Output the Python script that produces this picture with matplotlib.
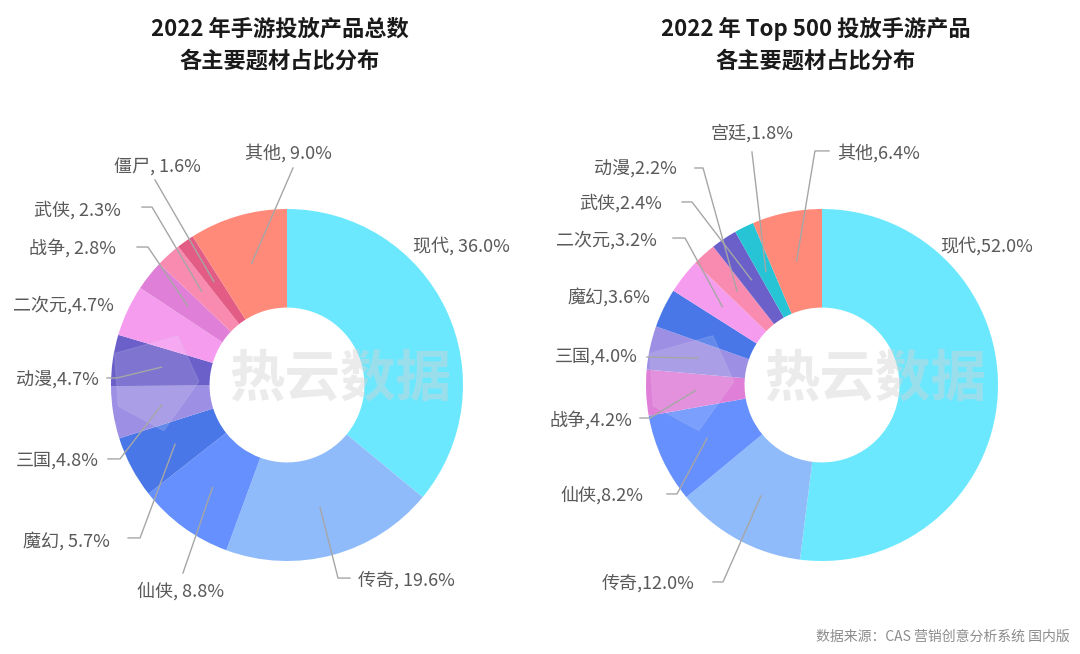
import numpy as np
import matplotlib.pyplot as plt
from matplotlib.patches import Polygon

plt.rcParams['font.family'] = ['Noto Sans CJK SC', 'DejaVu Sans']

# 左图：2022 年手游投放产品总数
left_names = ['现代', '传奇', '仙侠', '魔幻', '三国', '动漫', '二次元', '战争', '武侠', '僵尸', '其他']
left_values = [36.0, 19.6, 8.8, 5.7, 4.8, 4.7, 4.7, 2.8, 2.3, 1.6, 9.0]
left_labels = ['现代, 36.0%', '传奇, 19.6%', '仙侠, 8.8%', '魔幻, 5.7%', '三国,4.8%', '动漫,4.7%',
               '二次元,4.7%', '战争, 2.8%', '武侠, 2.3%', '僵尸, 1.6%', '其他, 9.0%']

# 右图：2022 年 Top 500 投放手游产品
right_names = ['现代', '传奇', '仙侠', '战争', '三国', '魔幻', '二次元', '动漫', '武侠', '宫廷', '其他']
right_values = [52.0, 12.0, 8.2, 4.2, 4.0, 3.6, 3.2, 2.2, 2.4, 1.8, 6.4]
right_labels = ['现代,52.0%', '传奇,12.0%', '仙侠,8.2%', '战争,4.2%', '三国,4.0%', '魔幻,3.6%',
                '二次元,3.2%', '动漫,2.2%', '武侠,2.4%', '宫廷,1.8%', '其他,6.4%']

palette = {
    '现代': '#6CE8FE', '传奇': '#8FBBFA', '仙侠': '#6690FD', '魔幻': '#4A77E8',
    '三国': '#9D8FE4', '动漫': '#6B5FC9', '二次元': '#F59CEF', '战争': '#E07FD8',
    '武侠': '#F98AB0', '僵尸': '#E35C85', '其他': '#FF8A7A', '宫廷': '#26C4D4',
}
right_palette = dict(palette, 动漫='#F98AB0', 武侠='#6B5FC9')

# 标签布局（以饼图半径为单位）：文字位置、对齐方式、引线折点
left_layout = [
    ((0.716, 0.790), 'left', []),
    ((0.403, -1.108), 'left', [(0.290, -1.097), (0.358, -1.097)]),
    ((-0.852, -1.170), 'left', [(-0.591, -1.068)]),
    ((-1.006, -0.886), 'right', [(-0.835, -0.869), (-0.903, -0.869)]),
    ((-1.068, -0.432), 'right', [(-0.949, -0.420), (-1.017, -0.420)]),
    ((-1.068, 0.028), 'right', [(-0.966, 0.040), (-1.023, 0.040)]),
    ((-0.983, 0.455), 'right', []),
    ((-0.972, 0.778), 'right', [(-0.790, 0.784), (-0.852, 0.784)]),
    ((-0.943, 0.994), 'right', [(-0.767, 1.011), (-0.824, 1.011)]),
    ((-0.489, 1.233), 'right', [(-0.750, 1.165)]),
    ((-0.239, 1.318), 'left', [(0.034, 1.233)]),
]
right_layout = [
    ((0.670, 0.790), 'left', []),
    ((-0.722, -1.125), 'right', [(-0.5625, -1.119), (-0.619, -1.119)]),
    ((-1.017, -0.625), 'right', [(-0.824, -0.619), (-0.881, -0.619)]),
    ((-1.080, -0.199), 'right', [(-0.977, -0.1875), (-1.034, -0.1875)]),
    ((-1.045, 0.159), 'right', [(-0.994, 0.159)]),
    ((-0.977, 0.500), 'right', []),
    ((-0.9375, 0.824), 'right', [(-0.778, 0.835), (-0.847, 0.835)]),
    ((-0.824, 1.222), 'right', [(-0.676, 1.233), (-0.722, 1.233)]),
    ((-0.909, 1.034), 'right', [(-0.739, 1.040), (-0.795, 1.040)]),
    ((-0.636, 1.432), 'left', [(-0.398, 1.324)]),
    ((0.085, 1.318), 'left', [(-0.040, 1.330), (0.040, 1.330)]),
]

titles = ['2022 年手游投放产品总数\n各主要题材占比分布', '2022 年 Top 500 投放手游产品\n各主要题材占比分布']
source = '数据来源：CAS 营销创意分析系统 国内版'

W, H, R = 1080, 654, 176
fig = plt.figure(figsize=(W / 100, H / 100), dpi=100)


def draw_donut(rect, cx, cy, names, values, labels, layout, colors):
    ax = fig.add_axes(rect)
    x0 = rect[0] * W
    w = rect[2] * W
    wedges, _ = ax.pie(values, colors=[colors[n] for n in names], startangle=90,
                       counterclock=False, radius=1,
                       wedgeprops=dict(width=0.56, linewidth=0))
    ax.set_xlim(-(cx - x0) / R, (x0 + w - cx) / R)
    ax.set_ylim(-(H - cy) / R, cy / R)
    ax.set_aspect('equal')
    ax.axis('off')

    for wdg, lab, (txy, ha, path) in zip(wedges, labels, layout):
        ang = np.deg2rad((wdg.theta1 + wdg.theta2) / 2)
        ax_pt = (0.72 * np.cos(ang), 0.72 * np.sin(ang))
        if path:
            pts = [ax_pt] + path
            ax.plot([p[0] for p in pts], [p[1] for p in pts], color='#a6a6a6', lw=1)
        ax.text(txy[0], txy[1], lab, ha=ha, va='center', fontsize=13, color='#595959')

    # 水印（图标 + 文字）
    logo = Polygon([(-0.98, 0.18), (-0.62, 0.28), (-0.50, 0.02), (-0.70, -0.26), (-0.96, -0.12)],
                   closed=True, facecolor='white', edgecolor='#cfcfe8', alpha=0.14, lw=1)
    ax.add_patch(logo)
    ax.text(0.30, 0.03, '热云数据', ha='center', va='center', fontsize=40,
            fontweight='bold', color='#d4d4d4', alpha=0.45)
    return ax


draw_donut([0, 0, 0.5, 1], 287, 385, left_names, left_values, left_labels, left_layout, palette)
draw_donut([0.5, 0, 0.5, 1], 822, 385, right_names, right_values, right_labels, right_layout, right_palette)

fig.text(280 / W, 1 - 45 / H, titles[0], ha='center', va='center', fontsize=16,
         fontweight='bold', color='#1a1a1a', linespacing=1.5)
fig.text(816 / W, 1 - 45 / H, titles[1], ha='center', va='center', fontsize=16,
         fontweight='bold', color='#1a1a1a', linespacing=1.5)
fig.text(1070 / W, 1 - 637 / H, source, ha='right', va='center', fontsize=10, color='#8c8c8c')

fig.savefig('out.png', dpi=100)
